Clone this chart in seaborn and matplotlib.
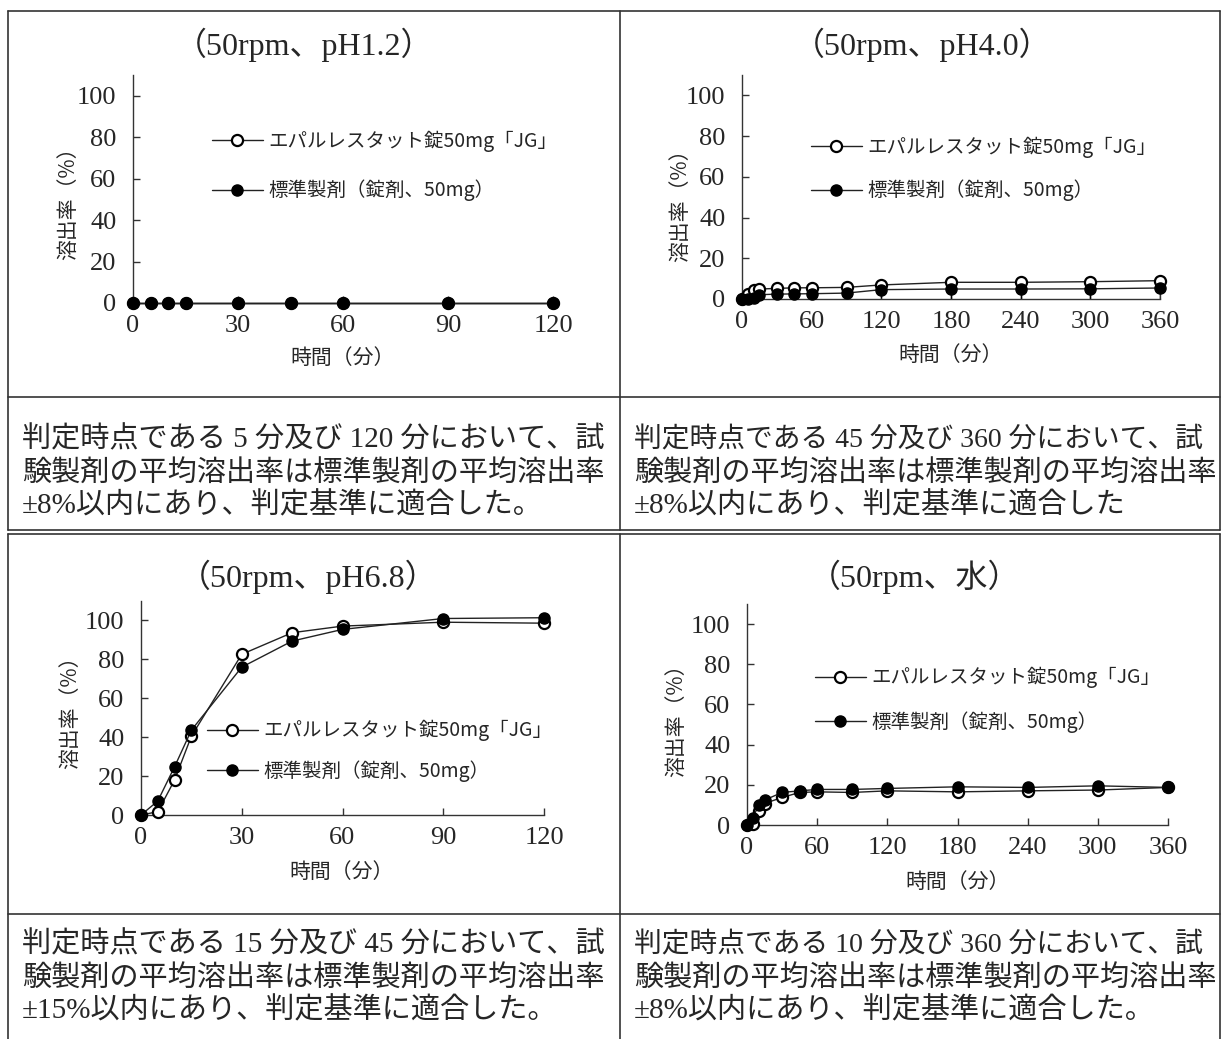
# This imports matplotlib for plotting.
import matplotlib
matplotlib.use("Agg")
import matplotlib.pyplot as plt
from matplotlib.lines import Line2D

# This imports seaborn for the line plots.
import seaborn as sns

# Data.
# Sampling times (minutes).
times_120 = [0, 5, 10, 15, 30, 45, 60, 90, 120]
times_360 = [0, 5, 10, 15, 30, 45, 60, 90, 120, 180, 240, 300, 360]

# pH1.2 (both products stay at 0%).
ph12_test = [0, 0, 0, 0, 0, 0, 0, 0, 0]
ph12_ref = [0, 0, 0, 0, 0, 0, 0, 0, 0]

# pH4.0
ph40_test = [0, 2.4, 4.2, 4.9, 5.2, 5.5, 5.5, 5.7, 6.9, 8.2, 8.2, 8.5, 9.0]
ph40_ref = [0, 0, 0.5, 2.1, 2.4, 2.5, 2.6, 2.9, 4.6, 4.9, 4.9, 5.0, 5.4]
ph40_ref_sd = [0, 0, 0.3, 0.5, 0.8, 1.0, 2.5, 1.0, 4.0, 4.9, 4.9, 5.0, 5.4]

# pH6.8
ph68_test = [0, 1.7, 18.0, 40.5, 82.6, 93.7, 97.1, 99.1, 98.6]
ph68_ref = [0, 7.2, 24.8, 43.6, 76.0, 89.4, 95.4, 101.0, 101.4]

# Water
water_test = [0, 0.3, 7.0, 10.7, 13.7, 16.2, 16.5, 16.2, 17.0, 16.5, 17.0, 17.4, 18.7]
water_ref = [0, 3.3, 10.2, 12.4, 16.2, 17.0, 17.7, 17.7, 18.2, 19.0, 18.7, 19.5, 18.7]

# Texts.
test_label = "エパルレスタット錠50mg「JG」"
ref_label = "標準製剤（錠剤、50mg）"
titles = ["（50rpm、pH1.2）", "（50rpm、pH4.0）", "（50rpm、pH6.8）", "（50rpm、水）"]
ylabel = "溶出率（%）"
xlabel = "時間（分）"
notes = [
    ["判定時点である 5 分及び 120 分において、試",
     "験製剤の平均溶出率は標準製剤の平均溶出率",
     "±8%以内にあり、判定基準に適合した。"],
    ["判定時点である 45 分及び 360 分において、試",
     "験製剤の平均溶出率は標準製剤の平均溶出率",
     "±8%以内にあり、判定基準に適合した"],
    ["判定時点である 15 分及び 45 分において、試",
     "験製剤の平均溶出率は標準製剤の平均溶出率",
     "±15%以内にあり、判定基準に適合した。"],
    ["判定時点である 10 分及び 360 分において、試",
     "験製剤の平均溶出率は標準製剤の平均溶出率",
     "±8%以内にあり、判定基準に適合した。"],
]
# First line font size per cell (the right cells have longer first lines).
note_first_size = [21, 20, 21, 20]

# Style and fonts (set after seaborn style so they stick).
sns.set_style("ticks")
plt.rcParams["font.family"] = ["Liberation Serif", "Noto Sans CJK JP", "DejaVu Sans"]
cjk = ["Noto Sans CJK JP", "DejaVu Sans"]
mixed = ["Liberation Serif", "Noto Sans CJK JP", "DejaVu Sans"]

W, H = 1222, 1039
fig = plt.figure(figsize=(W / 100, H / 100), dpi=100)


# Converts pixel boxes (from the top left) to figure fractions.
def px_box(left, right, bottom, top):
    return [left / W, 1 - bottom / H, (right - left) / W, (bottom - top) / H]


grey = "#333333"

# Table borders.
for y0, y1 in [(11, 530), (534, 1045)]:
    for x in [8, 620, 1220]:
        fig.add_artist(Line2D([x / W, x / W], [1 - y0 / H, 1 - y1 / H], color=grey, lw=1.2))
for y in [11, 397, 530, 534, 914]:
    fig.add_artist(Line2D([8 / W, 1220 / W], [1 - y / H, 1 - y / H], color=grey, lw=1.2))

# Panel settings: axes box, x data, series, x ticks, legend spot, label spots.
panels = [
    dict(box=px_box(133, 553, 303, 75), x=times_120, test=ph12_test, ref=ph12_ref, sd=None,
         xt=[0, 30, 60, 90, 120], leg=(212, 166, 1.43), title=(304, 45), yl=(68, 198), xl=(343, 358)),
    dict(box=px_box(742, 1160, 299, 75), x=times_360, test=ph40_test, ref=ph40_ref, sd=ph40_ref_sd,
         xt=[0, 60, 120, 180, 240, 300, 360], leg=(811, 169, 1.12), title=(922, 45), yl=(680, 200), xl=(951, 355)),
    dict(box=px_box(141, 544, 815, 601), x=times_120, test=ph68_test, ref=ph68_ref, sd=None,
         xt=[0, 30, 60, 90, 120], leg=(207, 751, 0.96), title=(308, 577), yl=(70, 707), xl=(342, 872)),
    dict(box=px_box(747, 1168, 825, 604), x=times_360, test=water_test, ref=water_ref, sd=None,
         xt=[0, 60, 120, 180, 240, 300, 360], leg=(815, 700, 1.17), title=(915, 577), yl=(676, 715), xl=(958, 882)),
]

for i, p in enumerate(panels):
    ax = fig.add_axes(p["box"])
    ax.set_facecolor("none")

    # Test product: open circles.
    sns.lineplot(x=p["x"], y=p["test"], ax=ax, color="#222222", lw=1, marker="o", markersize=8,
                 markerfacecolor="white", markeredgecolor="black", markeredgewidth=1.6,
                 label=test_label, clip_on=False, zorder=3)
    # Reference product: filled circles.
    sns.lineplot(x=p["x"], y=p["ref"], ax=ax, color="#222222", lw=1, marker="o", markersize=8,
                 markerfacecolor="black", markeredgecolor="black", markeredgewidth=1,
                 label=ref_label, clip_on=False, zorder=4)
    # Lower error bars where they are shown.
    if p["sd"] is not None:
        ax.errorbar(p["x"], p["ref"], yerr=[p["sd"], [0] * len(p["sd"])], fmt="none",
                    ecolor="black", elinewidth=1, capsize=0, zorder=2)

    ax.set_xlim(0, p["xt"][-1])
    ax.set_ylim(0, 110)
    ax.set_xticks(p["xt"])
    ax.set_yticks([0, 20, 40, 60, 80, 100])
    ax.tick_params(direction="in", length=5, width=1, color=grey, labelsize=19)
    ax.tick_params(axis="y", pad=12)
    ax.tick_params(axis="x", pad=9)
    for lab in ax.get_xticklabels() + ax.get_yticklabels():
        lab.set_fontfamily("Liberation Serif")
    sns.despine(ax=ax)
    for s in ["left", "bottom"]:
        ax.spines[s].set_color(grey)
        ax.spines[s].set_linewidth(1)
    ax.set_xlabel("")
    ax.set_ylabel("")

    # Legend without frame, placed like the original.
    lx, ly, spacing = p["leg"]
    handles, labels = ax.get_legend_handles_labels()
    ax.legend(handles, labels, loc="center left", bbox_to_anchor=(lx / W, 1 - ly / H),
              bbox_transform=fig.transFigure, frameon=False, borderpad=0, borderaxespad=0,
              handlelength=2.6, handletextpad=0.3, labelspacing=spacing, numpoints=1,
              prop={"family": cjk, "size": 14})

    # Title, axis labels.
    tx, ty = p["title"]
    fig.text(tx / W, 1 - ty / H, titles[i], ha="center", va="center", fontsize=23, family=mixed)
    yx, yy = p["yl"]
    fig.text(yx / W, 1 - yy / H, ylabel, ha="center", va="center", rotation=90, fontsize=15, family=cjk)
    xx, xy = p["xl"]
    fig.text(xx / W, 1 - xy / H, xlabel, ha="center", va="center", fontsize=15, family=cjk)

# Note cells under each chart.
note_spots = [(22, 440), (634, 440), (22, 945), (634, 945)]
for c, ((nx, ny), lines) in enumerate(zip(note_spots, notes)):
    for k, line in enumerate(lines):
        size = note_first_size[c] if k == 0 else 21
        fig.text(nx / W, 1 - (ny + 33 * k) / H, line, ha="left", va="center", fontsize=size, family=mixed)

fig.savefig("out.png", dpi=100)
